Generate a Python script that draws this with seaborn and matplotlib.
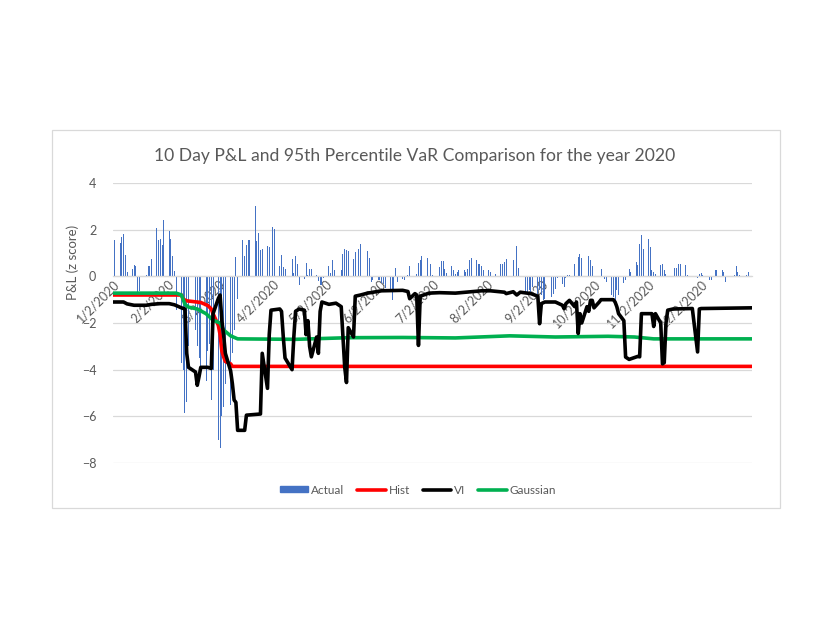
import pandas as pd
import matplotlib
matplotlib.use("Agg")
import matplotlib.pyplot as plt
from matplotlib.patches import Patch, Rectangle
from matplotlib.lines import Line2D
import seaborn as sns

# NYSE holidays 2020 (no trading, no bar)
holidays = ["2020-01-20", "2020-02-17", "2020-04-10", "2020-05-25",
            "2020-07-03", "2020-09-07", "2020-11-26", "2020-12-25"]

# 10 day P&L (z score), one value per trading day, month by month
actual_jan = [1.27, 1.54, 1.43, 1.69, 1.83, 0.90, 0.20, 0.31, 0.50, 0.46, -0.72,
              -0.62, 0.05, 0.43, 0.46, 0.76, 2.06, 1.57, 1.59, 1.33, 2.40]
actual_feb = [1.93, 1.60, 0.89, 0.23, -1.46, -3.70, -4.00, -5.87, -5.40, -3.00,
              -2.30, -3.00, -3.50, -3.90, -4.50, -3.20, -2.90, -5.30, -4.00]
actual_mar = [-7.00, -7.37, -6.00, -5.60, -4.60, -5.50, -3.30, -2.30, 0.83, -0.96,
              1.54, 0.87, 1.33, 1.54, 1.54, 3.01, 1.51, 1.87, 1.11, 1.19, 1.29, 1.24]
actual_apr = [2.00, 2.11, 2.04, 0.44, 0.90, 0.40, 0.30, 0.76, 0.13, 0.86, 0.54,
              -0.39, -0.10, 0.56, 0.05, 0.30, 0.30, 0.07, -0.21, -0.39, -0.39]
actual_may = [-0.05, 0.43, 0.14, 0.69, 0.26, 0.02, 0.26, 0.94, 1.16, 1.11, 1.09,
              0.76, 1.04, 0.10, 1.16, 1.37, 1.09, 0.80, -0.24, -0.17]
actual_jun = [-0.17, -0.14, -0.30, -0.31, -0.49, -0.60, -1.00, -0.60, 0.37, -0.24,
              -0.10, -0.17, -0.03, 0.05, 0.43, 0.03, 0.11, 0.59, 0.69, 0.86, 0.80, 0.74]
actual_jul = [0.54, 0.05, 0.40, 0.64, 0.64, 0.33, 0.14, 0.43, 0.26, 0.11, 0.19,
              0.29, 0.29, 0.19, 0.33, 0.69, 0.80, 0.71, 0.51, 0.51, 0.43, 0.26]
actual_aug = [0.26, 0.19, 0.02, -0.02, 0.09, 0.54, 0.54, 0.61, 0.76, 0.03, 0.69,
              0.76, 1.29, 0.36, 0.02, -0.74, -0.74, -0.60, -0.74, -0.46, -0.74]
actual_sep = [-0.60, -0.81, -1.03, -0.95, -0.90, -0.74, -0.53, -0.05, -0.31, -0.46,
              -0.05, 0.04, 0.04, 0.51, 0.02, 0.83, 0.97, 0.80, 0.86, 0.86, 0.69]
actual_oct = [0.43, 0.61, 0.02, 0.33, 0.02, -0.10, -0.24, -0.81, -0.89, -1.10, -0.60,
              -0.81, -0.30, -0.17, -0.03, 0.33, 0.19, 0.60, 0.50, 1.40, 1.76, 1.19]
actual_nov = [1.60, 1.26, 0.26, 0.19, 0.10, 0.47, 0.54, 0.29, 0.11, 0.02, 0.19,
              0.37, 0.37, 0.54, 0.54, 0.47, 0.04, 0.01, 0.03, -0.06]
actual_dec = [0.11, 0.14, 0.05, 0.02, -0.14, -0.17, 0.02, 0.26, 0.29, 0.26, 0.19,
              -0.24, 0.03, 0.02, 0.04, 0.43, 0.19, 0.05, 0.04, 0.19, 0.02, -0.31]

# 95th percentile VaR lines (vertices)
hist_dates = ["01-02", "02-10", "02-11", "02-13", "02-21", "02-25", "02-27", "02-28",
              "03-02", "03-03", "03-04", "03-05", "03-06", "03-09", "03-10", "12-31"]
hist_vals = [-0.80, -0.80, -0.98, -1.05, -1.12, -1.25, -1.40, -1.60,
             -2.10, -2.50, -3.20, -3.45, -3.65, -3.75, -3.86, -3.86]

gauss_dates = ["01-02", "02-07", "02-10", "02-12", "02-14", "02-19", "02-24", "02-28",
               "03-03", "03-05", "03-09", "03-13", "04-15", "05-15", "06-15", "07-15",
               "08-15", "09-10", "10-10", "10-25", "11-05", "12-31"]
gauss_vals = [-0.72, -0.72, -0.80, -1.20, -1.32, -1.40, -1.60, -1.88,
              -2.00, -2.30, -2.55, -2.68, -2.70, -2.63, -2.62, -2.64,
              -2.55, -2.60, -2.57, -2.60, -2.68, -2.68]

vi_dates = ["01-02", "01-08", "01-10", "01-14", "01-21", "01-24", "01-29", "02-03",
            "02-06", "02-10", "02-12", "02-13", "02-14", "02-18", "02-19", "02-20",
            "02-21", "02-25", "02-27", "02-28", "03-02", "03-03", "03-04", "03-05",
            "03-06", "03-09", "03-10", "03-11", "03-12", "03-13", "03-17", "03-18",
            "03-26", "03-27", "03-30", "03-31", "04-01", "04-06", "04-07", "04-08",
            "04-09", "04-13", "04-14", "04-15", "04-17", "04-20", "04-21", "04-22",
            "04-23", "04-24", "04-27", "04-28", "04-29", "04-30", "05-04", "05-08",
            "05-11", "05-12", "05-13", "05-14", "05-15", "05-18", "05-19", "05-22",
            "05-26", "06-03", "06-15", "06-18", "06-19", "06-22", "06-23", "06-24",
            "06-25", "06-30", "07-06", "07-15", "07-30", "08-04", "08-12", "08-13",
            "08-17", "08-19", "08-21", "08-27", "08-31", "09-01", "09-02", "09-04",
            "09-10", "09-14", "09-15", "09-16", "09-18", "09-21", "09-22", "09-23",
            "09-24", "09-25", "09-28", "09-29", "09-30", "10-01", "10-02", "10-05",
            "10-06", "10-13", "10-14", "10-15", "10-16", "10-19", "10-20", "10-22",
            "10-27", "10-28", "10-29", "11-04", "11-05", "11-06", "11-09", "11-10",
            "11-11", "11-12", "11-13", "11-16", "11-27", "11-30", "12-01", "12-02",
            "12-31"]
vi_vals = [-1.10, -1.10, -1.18, -1.24, -1.24, -1.20, -1.17, -1.17,
           -1.22, -1.35, -1.40, -3.30, -3.90, -4.10, -4.67, -4.30,
           -3.90, -3.90, -3.95, -1.60, -0.95, -0.80, -1.90, -2.50,
           -3.30, -4.05, -4.60, -5.30, -5.40, -6.60, -6.60, -5.95,
           -5.90, -3.30, -4.80, -2.50, -1.45, -1.40, -1.50, -2.60,
           -3.50, -4.00, -2.60, -1.50, -1.40, -1.45, -2.50, -1.90,
           -3.00, -3.45, -2.60, -3.30, -1.50, -1.10, -1.20, -1.15,
           -1.30, -2.60, -3.90, -4.55, -2.20, -2.60, -0.85, -0.80,
           -0.72, -0.62, -0.60, -0.65, -0.96, -0.74, -0.80, -2.96,
           -0.85, -0.72, -0.70, -0.72, -0.62, -0.62, -0.68, -0.74,
           -0.66, -0.80, -0.68, -0.74, -0.85, -2.03, -1.17, -1.10,
           -1.10, -1.24, -1.39, -1.17, -1.03, -1.30, -1.10, -2.45,
           -1.60, -2.00, -1.30, -1.50, -1.03, -1.03, -1.35, -1.10,
           -1.00, -1.00, -1.10, -1.30, -1.60, -1.90, -3.46, -3.56,
           -3.43, -3.45, -1.60, -1.60, -2.15, -1.60, -2.00, -3.75,
           -3.70, -2.00, -1.45, -1.40, -1.38, -3.24, -1.40, -1.38,
           -1.35]

month_ticks = [f"2020-{m:02d}-02" for m in range(1, 13)]
month_labels = [f"{m}/2/2020" for m in range(1, 13)]

# ---- build frames ----
days = pd.bdate_range("2020-01-02", "2020-12-31")
days = days[~days.isin(pd.to_datetime(holidays))]
actual = (actual_jan + actual_feb + actual_mar + actual_apr + actual_may + actual_jun
          + actual_jul + actual_aug + actual_sep + actual_oct + actual_nov + actual_dec)
bars = pd.DataFrame({"date": days, "actual": actual})

def to_dates(md):
    return pd.to_datetime(["2020-" + d for d in md])

hist = pd.DataFrame({"date": to_dates(hist_dates), "var": hist_vals})
gauss = pd.DataFrame({"date": to_dates(gauss_dates), "var": gauss_vals})
vi = pd.DataFrame({"date": to_dates(vi_dates), "var": vi_vals})

# ---- plot ----
sns.set_theme(style="white")
plt.rcParams["font.family"] = ["Lato", "DejaVu Sans"]
txt = "#595959"
grid = "#d9d9d9"

fig = plt.figure(figsize=(8.3, 6.42), dpi=100)
ax = fig.add_axes([113 / 830, 1 - 463 / 642, 639 / 830, 280 / 642])
ax.set_axisbelow(True)

ax.bar(bars["date"], bars["actual"], width=0.55, color="#4472C4", linewidth=0, zorder=1)
sns.lineplot(data=hist, x="date", y="var", ax=ax, color="#FF0000", linewidth=2.6, zorder=3)
sns.lineplot(data=vi, x="date", y="var", ax=ax, color="#000000", linewidth=2.6, zorder=4)
sns.lineplot(data=gauss, x="date", y="var", ax=ax, color="#00B050", linewidth=2.6, zorder=3)

ax.set_ylim(-8, 4)
ax.set_yticks(range(-8, 5, 2))
ax.set_xlim(pd.Timestamp("2020-01-02"), pd.Timestamp("2020-12-31"))
ax.yaxis.grid(True, color=grid, linewidth=0.9)
for s in ["top", "right", "left"]:
    ax.spines[s].set_visible(False)
ax.spines["bottom"].set_position(("data", 0))
ax.spines["bottom"].set_color(grid)
ax.spines["bottom"].set_linewidth(0.9)
ax.tick_params(axis="both", length=0, colors=txt, labelsize=9)
ax.tick_params(axis="x", pad=1)
ax.tick_params(axis="y", pad=12)

ax.set_xticks(pd.to_datetime(month_ticks))
ax.set_xticklabels(month_labels)
for lab in ax.get_xticklabels():
    lab.set_rotation(45)
    lab.set_ha("right")
    lab.set_va("top")
    lab.set_rotation_mode("anchor")
    lab.set_color(txt)
    lab.set_fontsize(9)

ax.set_xlabel("")
ax.set_ylabel("P&L (z score)", color=txt, fontsize=9.5)
ax.yaxis.set_label_coords(-0.053, 0.715)

fig.text(415 / 830, 1 - 156 / 642,
         "10 Day P&L and 95th Percentile VaR Comparison for the year 2020",
         ha="center", va="center", fontsize=12.6, color=txt)

handles = [Patch(color="#4472C4"),
           Line2D([], [], color="#FF0000", lw=2.6),
           Line2D([], [], color="#000000", lw=2.6),
           Line2D([], [], color="#00B050", lw=2.6)]
leg = fig.legend(handles, ["Actual", "Hist", "VI", "Gaussian"], ncol=4,
                 loc="center", bbox_to_anchor=(418 / 830, 1 - 490 / 642),
                 frameon=False, fontsize=8.5, handlelength=2.4, handleheight=0.45,
                 columnspacing=1.1, handletextpad=0.25)
for t in leg.get_texts():
    t.set_color(txt)

fig.patches.append(Rectangle((52 / 830, 1 - 508 / 642), 728 / 830, 378 / 642,
                             transform=fig.transFigure, fill=False,
                             edgecolor=grid, linewidth=0.9))

fig.savefig("out.png", dpi=100, facecolor="white")
